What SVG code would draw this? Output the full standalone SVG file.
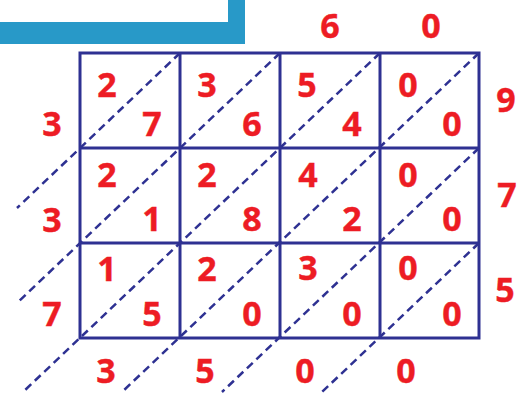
<svg xmlns="http://www.w3.org/2000/svg" width="522" height="394" viewBox="0 0 522 394">
<style>
.grid{fill:none;stroke:#2e3192;stroke-width:3}
.diag{fill:none;stroke:#2e3192;stroke-width:2.5;stroke-dasharray:8 5}
text{font-family:"Open Sans","Liberation Sans",sans-serif;font-weight:bold;font-size:34px;fill:#ed1c24;stroke:#ed1c24;stroke-width:0.4;text-anchor:middle}
</style>
<rect width="522" height="394" fill="#ffffff"/>
<path id="bar" d="M0,22 H228 V0 H245 V44 H0 Z" fill="#2899c8"/>
<g id="connectors">
<line class="diag" x1="180" y1="53" x2="17" y2="208"/>
<line class="diag" x1="280" y1="53" x2="17" y2="303"/>
<line class="diag" x1="380" y1="53" x2="23" y2="392"/>
<line class="diag" x1="479" y1="53" x2="122" y2="392"/>
<line class="diag" x1="479" y1="148" x2="222" y2="392"/>
<line class="diag" x1="479" y1="243" x2="322" y2="392"/>
</g>
<g id="grid">
<rect class="grid" x="80" y="53" width="399" height="285"/>
<line class="grid" x1="180" y1="53" x2="180" y2="338"/>
<line class="grid" x1="280" y1="53" x2="280" y2="338"/>
<line class="grid" x1="380" y1="53" x2="380" y2="338"/>
<line class="grid" x1="80" y1="148" x2="479" y2="148"/>
<line class="grid" x1="80" y1="243" x2="479" y2="243"/>
</g>
<g id="top-digits">
<text x="330" y="38">6</text>
<text x="431" y="38">0</text>
</g>
<g id="left-digits">
<text x="52" y="136">3</text>
<text x="52" y="232">3</text>
<text x="52" y="326">7</text>
</g>
<g id="right-digits">
<text x="506" y="112">9</text>
<text x="507" y="207">7</text>
<text x="505" y="302">5</text>
</g>
<g id="bottom-digits">
<text x="106" y="383">3</text>
<text x="205" y="383">5</text>
<text x="305" y="383">0</text>
<text x="406" y="383">0</text>
</g>
<g id="cell-r1c1"><text x="107" y="97">2</text><text x="152" y="136">7</text></g>
<g id="cell-r1c2"><text x="207" y="97">3</text><text x="252" y="136">6</text></g>
<g id="cell-r1c3"><text x="307" y="97">5</text><text x="352" y="136">4</text></g>
<g id="cell-r1c4"><text x="408" y="97">0</text><text x="452" y="136">0</text></g>
<g id="cell-r2c1"><text x="107" y="187">2</text><text x="152" y="231">1</text></g>
<g id="cell-r2c2"><text x="207" y="187">2</text><text x="252" y="231">8</text></g>
<g id="cell-r2c3"><text x="308" y="187">4</text><text x="352" y="231">2</text></g>
<g id="cell-r2c4"><text x="408" y="187">0</text><text x="452" y="231">0</text></g>
<g id="cell-r3c1"><text x="107" y="281">1</text><text x="152" y="326">5</text></g>
<g id="cell-r3c2"><text x="207" y="281">2</text><text x="252" y="326">0</text></g>
<g id="cell-r3c3"><text x="308" y="280">3</text><text x="352" y="326">0</text></g>
<g id="cell-r3c4"><text x="408" y="280">0</text><text x="452" y="326">0</text></g>
</svg>
